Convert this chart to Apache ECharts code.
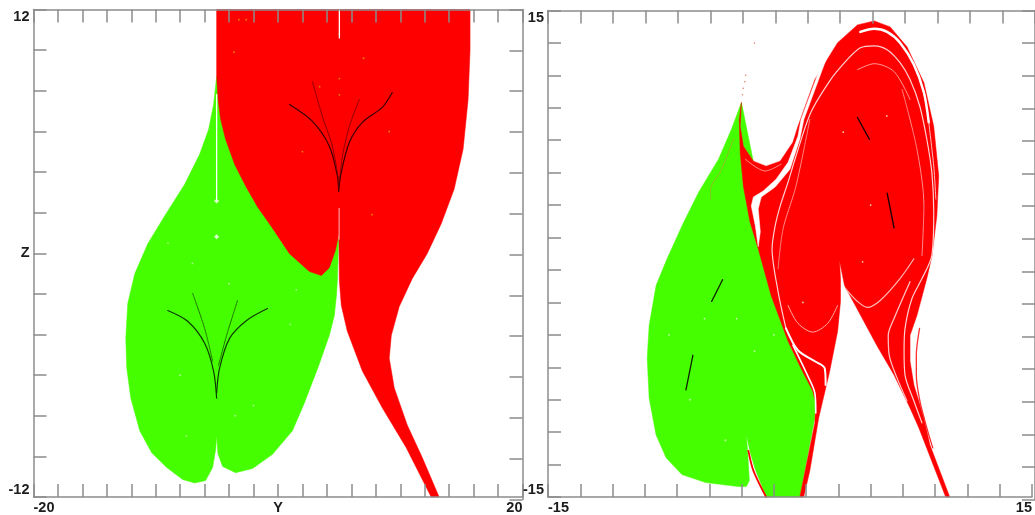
<!DOCTYPE html>
<html>
<head>
<meta charset="utf-8">
<style>html,body{margin:0;padding:0;background:#fff;overflow:hidden}#c{width:1035px;height:515px}</style>
<script src="https://cdn.jsdelivr.net/npm/echarts@6/dist/echarts.min.js"></script>
</head>
<body>
<div id="c"></div>
<script>
// ---------- left panel (Y, Z) ----------
const leftGreenOutline = [[-5.02,8.69],[-5.27,7.32],[-5.67,6.10],[-6.41,4.87],[-7.63,3.40],[-9.27,1.84],[-10.65,0.47],[-11.71,-1.00],[-12.29,-2.47],[-12.45,-4.19],[-12.37,-5.66],[-12.04,-7.13],[-11.31,-8.74],[-10.33,-9.82],[-9.10,-10.55],[-7.80,-11.14],[-6.82,-11.31],[-5.92,-11.19],[-5.35,-10.55],[-5.10,-9.67],[-5.02,-8.99],[-4.91,-9.87],[-4.53,-10.50],[-3.47,-10.80],[-2.08,-10.60],[-0.45,-9.90],[1.18,-8.74],[2.16,-7.37],[3.31,-5.56],[4.20,-4.04],[4.61,-3.06],[4.78,-2.08],[4.86,-1.35],[4.96,0.71]];
const leftRedOutline = [[-5.02,12],[-5.02,8.69],[-4.90,7.57],[-4.69,6.59],[-4.29,5.61],[-3.55,4.38],[-2.65,3.31],[-1.67,2.28],[-0.53,1.30],[0.94,-0.02],[2.57,-0.90],[3.55,-1.10],[4.20,-0.71],[4.69,0.12],[4.98,0.96],[5.02,-1.35],[5.18,-2.57],[5.67,-3.84],[6.90,-5.80],[8.53,-7.61],[10.49,-9.57],[12.53,-12],[13.18,-12],[11.80,-10.06],[10.57,-8.45],[9.51,-6.63],[9.10,-5.17],[9.27,-4.04],[9.92,-2.62],[10.98,-1.25],[12.20,-0.02],[13.35,1.45],[14.41,3.16],[15.14,5.12],[15.55,7.57],[15.71,10.02],[15.71,12]];
const leftWhiteLineA = [[-5.02,7.81],[-5.02,2.67]];
const leftWhiteLineB = [[5.02,12],[5.02,10.6]];
const leftPinkLine = [[5.0,2.2],[5.0,0.7]];
const leftSparkles = [[-5.02,2.57],[-5.02,0.81]];
const redUpperOuterLeft = [[0.94,7.32],[2.82,6.49],[4.20,5.27],[4.86,3.80],[4.96,3.06]];
const redUpperOuterRight = [[9.35,7.91],[8.53,7.18],[6.90,6.44],[5.84,5.46],[5.18,4.00],[4.96,3.06]];
const redUpperInnerLeft = [[2.82,8.45],[3.63,6.74],[4.45,5.27],[4.94,3.65]];
const redUpperInnerRight = [[6.65,7.57],[5.84,6.25],[5.27,4.78],[4.96,3.16]];
const greenLowerOuterLeft = [[-9.02,-2.82],[-7.39,-3.35],[-6.00,-4.43],[-5.27,-5.80],[-5.02,-7.13]];
const greenLowerOuterRight = [[-0.86,-2.72],[-2.57,-3.31],[-3.96,-4.19],[-4.78,-5.66],[-5.02,-6.88]];
const greenLowerInnerLeft = [[-6.98,-1.98],[-6.00,-3.70],[-5.35,-5.31]];
const greenLowerInnerRight = [[-3.31,-2.33],[-4.20,-4.04],[-4.86,-5.51]];
const leftYellowDots = [[5.02,10.8],[5.02,8.6],[5.02,7.8],[3.4,8.2],[7.0,9.6],[2.0,5.0],[7.7,1.9],[9.1,6.0],[-3.2,11.5],[-2.6,11.5],[-3.6,9.9]];
const leftWhiteDots = [[-8.0,-6.0],[-3.5,-8.0],[-7.5,-9.0],[-2.0,-7.5],[1.0,-3.5],[-9.0,0.5],[-7.0,-0.5],[1.5,-1.8],[-4.0,-1.5]];

// ---------- right panel (X, Y) ----------
const rightGreenOutline = [[-3.01,9.33],[-3.63,7.67],[-4.43,5.83],[-5.66,3.80],[-6.64,1.84],[-7.62,-0.31],[-8.30,-1.96],[-8.73,-4.42],[-8.85,-6.44],[-8.73,-8.90],[-8.30,-11.17],[-7.68,-12.58],[-6.70,-13.62],[-5.23,-14.11],[-3.20,-14.36],[-2.71,-14.36],[-2.52,-13.99],[-2.64,-11.96],[-2.71,-11.17],[-2.46,-12.27],[-2.15,-13.31],[-1.48,-15],[0.61,-15],[1.54,-10.12],[1.54,-8.71],[1.23,-7.85],[0.06,-5.83]];
const rightRedOutline = [[-3.01,9.33],[-3.14,8.28],[-3.09,6.26],[-2.89,4.17],[-2.48,1.96],[-1.97,0.31],[-1.17,-2.58],[-0.12,-5.40],[0.68,-7.06],[1.41,-8.47],[1.60,-9.20],[1.54,-10.43],[0.61,-15],[0.85,-15],[1.23,-13.37],[1.78,-10.12],[2.46,-7.24],[2.95,-4.79],[3.13,-2.95],[3.13,-1.53],[3.07,-0.43],[3.38,-1.96],[5.41,-5.71],[6.45,-7.48],[7.44,-9.51],[7.99,-10.74],[9.65,-15],[9.90,-15],[8.67,-11.78],[8.30,-10.12],[7.68,-8.10],[7.44,-6.63],[7.44,-5.03],[7.87,-3.80],[8.48,-1.53],[8.79,-0.18],[9.10,2.33],[9.22,4.79],[8.91,7.85],[8.30,10.55],[7.25,12.76],[6.21,13.99],[5.22,14.36],[4.18,14.11],[2.95,13.01],[1.54,10.74],[0.49,7.85],[0.18,6.87],[-0.61,5.71],[-1.48,5.40],[-2.27,5.71],[-2.89,6.63],[-3.09,7.85]];
const whiteWedge = [[2.12,12.15],[0.68,8.28],[0.49,7.24],[-0.12,5.64],[-0.86,4.60],[-1.66,3.87],[-2.27,3.50],[-2.40,2.94],[-2.15,1.72],[-1.97,0.43],[-1.84,1.35],[-1.97,2.76],[-1.78,3.50],[-0.92,4.11],[0.00,5.21],[0.61,7.06],[0.86,8.28],[2.30,12.15]];
const stripeOuterThick = [[4.36,13.68],[5.22,13.87],[6.02,13.68],[6.82,13.01],[7.68,11.66],[8.30,9.94],[8.60,8.10]];
const stripeOuterThin = [[8.60,8.10],[8.91,5.40],[9.04,3.37]];
const stripeLoop = [[3.38,11.78],[4.36,12.70],[5.22,12.82],[6.02,12.58],[6.82,11.78],[7.44,10.74],[8.05,9.08],[8.48,7.06],[8.79,5.03],[8.91,2.58],[8.79,-0.12],[8.18,-1.53],[7.56,-2.76],[7.13,-4.60],[7.07,-6.01],[7.13,-7.48],[7.68,-9.08],[8.18,-10.43]];
const stripeLoopLeft = [[3.38,11.78],[2.52,10.74],[1.29,8.71],[0.31,5.83],[-0.12,4.42],[-0.61,2.94],[-0.92,1.72],[-1.11,0.31],[-0.74,-2.33],[-0.25,-4.60]];
const stripeLoopLower = [[-0.25,-4.60],[0.49,-5.95],[1.54,-6.63],[2.15,-7.06],[2.21,-8.10]];
const stripeEdge = [[0.18,-5.64],[1.11,-7.55],[1.54,-8.59],[1.60,-9.82]];
const stripeRight = [[7.44,-1.72],[6.45,-3.99],[6.09,-5.03],[6.15,-6.26],[6.64,-7.67],[7.25,-9.08]];
const faintTop = [[4.18,11.35],[5.22,11.72],[6.45,11.23],[7.44,9.51]];
const faintLobeLeft = [[-0.12,-3.19],[0.49,-4.29],[1.41,-4.83],[2.34,-4.29],[2.95,-3.19]];
const faintLobeRight = [[3.44,-2.15],[4.18,-2.94],[4.79,-3.31],[5.59,-2.88],[6.82,-1.53],[7.68,-0.31]];
const faintUpperArc = [[-2.77,5.83],[-1.54,5.10],[-0.55,5.52]];
const faintDottedLeft = [[1.23,8.28],[0.37,4.17],[-0.43,1.53],[-0.74,-0.92]];
const faintDottedRight = [[6.95,10.12],[7.87,6.44],[8.30,2.94],[8.18,-0.12]];
const redSliver = [[8.03,-4.60],[7.83,-6.26],[7.83,-7.48],[8.05,-9.08],[8.48,-10.74],[8.85,-11.97]];
const redNotchEdge = [[-2.58,-12.15],[-2.27,-13.37],[-1.48,-15]];
const redTipDots = [[-2.75,11.0],[-2.8,10.6],[-2.9,10.2],[-2.95,9.8],[-2.2,13.0]];
const greenFaintLine = [[-3.50,7.06],[-4.30,5.09],[-4.92,3.99],[-4.92,3.37]];
const blackA = [[4.18,8.40],[4.92,7.06]];
const blackB = [[6.02,3.74],[6.45,1.60]];
const blackC = [[-4.18,-1.60],[-4.86,-2.94]];
const blackD = [[-6.02,-6.26],[-6.45,-8.40]];
const rightWhiteDots = [[-5.3,-4.0],[-3.3,-4.0],[-7.5,-5.0],[-6.2,-9.0],[-4.0,-11.5],[-2.2,-6.0],[-1.0,-5.0],[3.3,7.5],[5.0,3.0],[6.0,8.5],[0.8,-3.0],[4.5,-0.5]];

// ---------- tick labels ----------
const leftXLabels = {min:'-20', mid:'Y', max:'20'};
const leftYLabels = {min:'-12', mid:'Z', max:'12'};
const rightXLabels = {min:'-15', mid:'X', max:'15'};
const rightYLabels = {min:'-15', mid:'Y', max:'15'};

const GREEN='#45ff00', RED='#ff0000', AXIS='#8c8c8c', INK='#1c1c1c';

function poly(arr,fill,ai){
  return {type:'custom',xAxisIndex:ai,yAxisIndex:ai,silent:true,animation:false,
    encode:{x:0,y:1},data:arr,
    renderItem:(p,api)=>p.dataIndex!==0?null:({type:'polygon',
      shape:{points:arr.map(d=>api.coord(d))},style:{fill:fill,stroke:fill,lineWidth:0.5}})};
}
function line(arr,color,width,ai,smooth,dash){
  return {type:'line',xAxisIndex:ai,yAxisIndex:ai,data:arr,symbol:'none',silent:true,animation:false,
    smooth:smooth===undefined?0.3:smooth,
    lineStyle:{color:color,width:width,type:dash||'solid',cap:'round'}};
}
function dots(arr,color,size,ai,sym){
  return {type:'scatter',xAxisIndex:ai,yAxisIndex:ai,data:arr,symbol:sym||'circle',symbolSize:size,silent:true,animation:false,
    itemStyle:{color:color}};
}
function fmt(lab){return v=>v===0?lab.mid:(v<0&&v===lab.lo?`{m|${lab.min}}`:(v===lab.hi?lab.max:''));}
function xAxis(grid,lo,hi,lab,bottom){
  lab.lo=lo;lab.hi=hi;
  return {type:'value',gridIndex:grid,min:lo,max:hi,interval:2,position:bottom?'bottom':'top',z:10,
    splitLine:{show:false},
    axisLine:{show:true,onZero:false,lineStyle:{color:AXIS,width:1.5}},
    axisTick:{show:true,inside:true,length:13,lineStyle:{color:AXIS,width:1.5}},
    axisLabel:{show:bottom,margin:3,fontFamily:'Liberation Sans',fontWeight:'bold',fontSize:14.5,color:INK,
      alignMinLabel:'left',alignMaxLabel:'right',showMinLabel:true,showMaxLabel:true,interval:0,hideOverlap:false,
      formatter:v=>v===0?lab.mid:(v===lo?lab.min:(v===hi?lab.max:''))}};
}
function yAxis(grid,lo,hi,lab,left){
  return {type:'value',gridIndex:grid,min:lo,max:hi,interval:2,position:left?'left':'right',z:10,
    splitLine:{show:false},
    axisLine:{show:true,onZero:false,lineStyle:{color:AXIS,width:1.5}},
    axisTick:{show:true,inside:true,length:13,lineStyle:{color:AXIS,width:1.5}},
    axisLabel:{show:left,margin:4,fontFamily:'Liberation Sans',fontWeight:'bold',fontSize:14.5,color:INK,
      verticalAlignMinLabel:'bottom',verticalAlignMaxLabel:'top',showMinLabel:true,showMaxLabel:true,interval:0,hideOverlap:false,
      formatter:v=>v===0?lab.mid:(v===lo?lab.min:(v===hi?lab.max:''))}};
}

const chart=echarts.init(document.getElementById('c'),null,{renderer:'canvas'});
chart.setOption({
  animation:false,backgroundColor:'#fff',tooltip:{show:false},
  grid:[
    {left:33.5,top:9.5,width:489,height:490},
    {left:33.5,top:9.5,width:489,height:490},
    {left:548,top:10.5,width:488,height:489},
    {left:548,top:10.5,width:488,height:489}
  ],
  xAxis:[xAxis(0,-20,20,leftXLabels,true),xAxis(1,-20,20,leftXLabels,false),xAxis(2,-15,15,rightXLabels,true),xAxis(3,-15,15,rightXLabels,false)],
  yAxis:[yAxis(0,-12,12,leftYLabels,true),yAxis(1,-12,12,leftYLabels,false),yAxis(2,-15,15,rightYLabels,true),yAxis(3,-15,15,rightYLabels,false)],
  series:[
    poly(leftGreenOutline,GREEN,0),
    poly(leftRedOutline,RED,0),
    line(leftWhiteLineA,'#ffffff',1.3,0,0),
    line(leftWhiteLineB,'#ffffff',1.3,0,0),
    line(leftPinkLine,'#ff9a9a',1.2,0,0),
    dots(leftSparkles,'#ffffff',5,0,'diamond'),
    dots(leftYellowDots,'#e0a000',1.8,0),
    dots(leftWhiteDots,'#c8ffb0',1.8,0),
    line(redUpperOuterLeft,'#3a0000',1.2,0),
    line(redUpperOuterRight,'#3a0000',1.2,0),
    line(redUpperInnerLeft,'#7a0000',1,0,0.3,'dotted'),
    line(redUpperInnerRight,'#7a0000',1,0,0.3,'dotted'),
    line(greenLowerOuterLeft,'#0c3a00',1.2,0),
    line(greenLowerOuterRight,'#0c3a00',1.2,0),
    line(greenLowerInnerLeft,'#1a6000',1,0,0.3,'dotted'),
    line(greenLowerInnerRight,'#1a6000',1,0,0.3,'dotted'),

    poly(rightGreenOutline,GREEN,2),
    poly(rightRedOutline,RED,2),
    line(faintTop,'#ff9a9a',1,2),
    line(faintLobeLeft,'#ffa8a8',1,2),
    line(faintLobeRight,'#ffb8b8',1.2,2),
    line(faintUpperArc,'#ff8a8a',1,2),
    line(faintDottedLeft,'#ffa0a0',1,2,0.3,'dotted'),
    line(faintDottedRight,'#ffa0a0',1,2,0.3,'dotted'),
    poly(whiteWedge,'#ffffff',2),
    line(stripeOuterThick,'#ffffff',2.5,2),
    line(stripeOuterThin,'#ffc0c0',1,2),
    line(stripeLoop,'#ffd0d0',1.2,2),
    line(stripeLoopLeft,'#ffd0d0',1.2,2),
    line(stripeLoopLower,'#ffffff',2,2),
    line(stripeEdge,'#ffffff',1.6,2),
    line(stripeRight,'#ffc0c0',1.3,2),
    line(redSliver,'#ff3030',1.3,2),
    line(redNotchEdge,RED,1.8,2),
    line(greenFaintLine,'#a0b030',1,2,0.3,'dotted'),
    dots(redTipDots,'#e05030',1.5,2),
    dots(rightWhiteDots,'#e8ffe0',1.8,2),
    line(blackA,'#200000',1.4,2,0),
    line(blackB,'#200000',1.4,2,0),
    line(blackC,'#0c2000',1.3,2,0),
    line(blackD,'#0c2000',1.3,2,0)
  ]
});
</script>
</body>
</html>
